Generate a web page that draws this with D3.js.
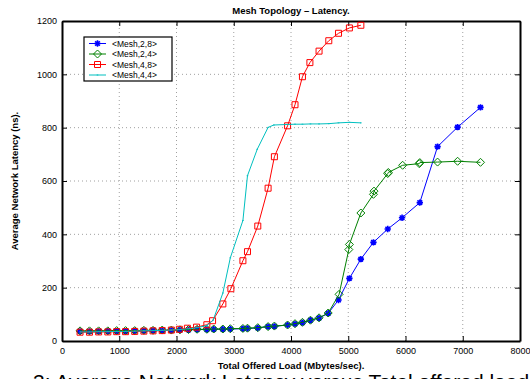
<!DOCTYPE html>
<html>
<head>
<meta charset="utf-8">
<script src="https://cdn.jsdelivr.net/npm/d3@7"></script>
<style>
  body { margin: 0; background: #fff; }
  svg { display: block; font-family: 'Liberation Sans', Arial, sans-serif; }
</style>
</head>
<body>
<svg id="chart" width="530" height="379"></svg>
<script>
// Mesh topology latency
const mesh28Load = [315, 480, 640, 800, 955, 1110, 1270, 1430, 1590, 1750, 1910, 2060, 2210, 2360,
  2530, 2650, 2810, 2940, 3160, 3240, 3420, 3600, 3710, 3940, 4070, 4200, 4340, 4490, 4650,
  4830, 5020, 5220, 5440, 5690, 5940, 6250, 6560, 6910, 7310];
const mesh28Lat = [36, 36, 36, 37, 37, 37, 38, 38, 39, 39, 40, 41, 42, 43,
  43, 44, 44, 45, 46, 47, 49, 54, 55, 60, 64, 69, 78, 86, 104,
  154, 235, 307, 370, 420, 462, 519, 729, 802, 876];

const mesh24Load = [315, 480, 640, 800, 955, 1110, 1270, 1430, 1590, 1750, 1910, 2060, 2210, 2360,
  2530, 2650, 2810, 2940, 3160, 3240, 3420, 3600, 3710, 3940, 4070, 4200, 4340, 4490, 4650,
  4840, 5010, 5020, 5220, 5440, 5450, 5690, 5700, 5950, 6240, 6250, 6560, 6910, 7310];
const mesh24Lat = [38, 38, 38, 38, 39, 39, 39, 40, 40, 41, 41, 42, 43, 44,
  44, 45, 45, 46, 47, 48, 50, 54, 56, 60, 65, 70, 78, 87, 105,
  175, 343, 362, 480, 550, 562, 628, 632, 659, 665, 669, 671, 674, 670];

const mesh48Load = [315, 480, 640, 800, 955, 1110, 1270, 1430, 1590, 1750, 1910, 2050, 2190, 2350,
  2530, 2630, 2810, 2950, 3160, 3240, 3420, 3600, 3710, 3940, 4070, 4200, 4330, 4490, 4660,
  4830, 5020, 5220];
const mesh48Lat = [33, 33, 34, 34, 35, 35, 36, 37, 38, 39, 41, 44, 48, 52,
  61, 76, 139, 196, 301, 335, 431, 573, 691, 807, 886, 991, 1044, 1087, 1126,
  1154, 1174, 1184];

const mesh44Load = [315, 480, 640, 800, 955, 1110, 1270, 1430, 1590, 1750, 1910, 2060, 2210, 2360,
  2530, 2640, 2810, 2940, 3160, 3240, 3410, 3600, 3700, 3940, 4070, 4200, 4340, 4490, 4660,
  4830, 5020, 5220];
const mesh44Lat = [34, 34, 35, 35, 36, 36, 37, 38, 39, 40, 41, 43, 46, 50,
  58, 78, 180, 312, 452, 620, 719, 801, 810, 812, 813, 813, 814, 814, 815,
  818, 820, 818];

const seriesNames = ['<Mesh,2,8>', '<Mesh,2,4>', '<Mesh,4,8>', '<Mesh,4,4>'];
const xTicks = [0, 1000, 2000, 3000, 4000, 5000, 6000, 7000, 8000];
const yTicks = [0, 200, 400, 600, 800, 1000, 1200];

const svg = d3.select('#chart');
const margin = { top: 21, right: 10, bottom: 38, left: 62 };
const width = 530;
const height = 379;

const x = d3.scaleLinear().domain([0, 8000]).range([margin.left, width - margin.right]);
const y = d3.scaleLinear().domain([0, 1200]).range([height - margin.bottom, margin.top]);

const series = [
  { name: seriesNames[0], load: mesh28Load, lat: mesh28Lat, color: '#0000ff', marker: 'star' },
  { name: seriesNames[1], load: mesh24Load, lat: mesh24Lat, color: '#008000', marker: 'diamond' },
  { name: seriesNames[2], load: mesh48Load, lat: mesh48Lat, color: '#ff0000', marker: 'square' },
  { name: seriesNames[3], load: mesh44Load, lat: mesh44Lat, color: '#00bfbf', marker: 'dot' }
];

// grid
svg.append('g')
  .selectAll('line')
  .data(xTicks.slice(1, -1))
  .enter()
  .append('line')
  .attr('x1', d => x(d)).attr('x2', d => x(d))
  .attr('y1', y(0)).attr('y2', y(1200))
  .attr('stroke', '#888').attr('stroke-width', 0.8).attr('stroke-dasharray', '1,3');

svg.append('g')
  .selectAll('line')
  .data(yTicks.slice(1, -1))
  .enter()
  .append('line')
  .attr('x1', x(0)).attr('x2', x(8000))
  .attr('y1', d => y(d)).attr('y2', d => y(d))
  .attr('stroke', '#888').attr('stroke-width', 0.8).attr('stroke-dasharray', '1,3');

// axes, ticks inward
const xAxis = g => g
  .attr('transform', `translate(0,${y(0)})`)
  .call(d3.axisBottom(x).tickValues(xTicks).tickSizeInner(-5).tickSizeOuter(0).tickPadding(7).tickFormat(d3.format('d')));

const yAxis = g => g
  .attr('transform', `translate(${x(0)},0)`)
  .call(d3.axisLeft(y).tickValues(yTicks).tickSizeInner(-5).tickSizeOuter(0).tickPadding(5).tickFormat(d3.format('d')));

const xTop = g => g
  .attr('transform', `translate(0,${y(1200)})`)
  .call(d3.axisTop(x).tickValues(xTicks).tickSizeInner(-5).tickSizeOuter(0).tickFormat(''));

const yRight = g => g
  .attr('transform', `translate(${x(8000)},0)`)
  .call(d3.axisRight(y).tickValues(yTicks).tickSizeInner(-5).tickSizeOuter(0).tickFormat(''));

[xAxis, yAxis, xTop, yRight].forEach(a => {
  const g = svg.append('g').call(a);
  g.selectAll('text').attr('font-size', 9).attr('fill', '#000')
    .attr('font-family', "'Liberation Sans', Arial, sans-serif");
  g.select('.domain').attr('stroke', '#000').attr('stroke-width', 2);
  g.selectAll('.tick line').attr('stroke', '#000').attr('stroke-width', 1);
});

// lines
const line = d3.line()
  .x(d => x(d[0]))
  .y(d => y(d[1]));

function markerPath(type) {
  if (type === 'square') return 'M-3,-3H3V3H-3Z';
  if (type === 'diamond') return 'M0,-4L4,0L0,4L-4,0Z';
  if (type === 'star') return 'M-3.2,0H3.2M0,-3.2V3.2M-2.3,-2.3L2.3,2.3M-2.3,2.3L2.3,-2.3';
  return 'M-0.8,0H0.8';
}

function drawMarker(g, type, color) {
  g.append('path')
    .attr('d', markerPath(type))
    .attr('fill', 'none')
    .attr('stroke', color)
    .attr('stroke-width', type === 'star' ? 1.6 : 1);
}

series.forEach(s => {
  const pts = s.load.map((v, i) => [v, s.lat[i]]);
  svg.append('path')
    .datum(pts)
    .attr('fill', 'none')
    .attr('stroke', s.color)
    .attr('stroke-width', 1)
    .attr('d', line);

  svg.append('g')
    .selectAll('g')
    .data(pts)
    .enter()
    .append('g')
    .attr('transform', d => `translate(${x(d[0])},${y(d[1])})`)
    .each(function () { drawMarker(d3.select(this), s.marker, s.color); });
});

// legend
const legend = svg.append('g').attr('transform', 'translate(84,37)');
legend.append('rect')
  .attr('width', 88).attr('height', 44)
  .attr('fill', '#fff').attr('stroke', '#000').attr('stroke-width', 1.2);

series.forEach((s, i) => {
  const row = legend.append('g').attr('transform', `translate(0,${6.5 + i * 10.5})`);
  row.append('line')
    .attr('x1', 5).attr('x2', 22)
    .attr('stroke', s.color).attr('stroke-width', 1);
  const m = row.append('g').attr('transform', 'translate(13.5,0)');
  drawMarker(m, s.marker, s.color);
  row.append('text')
    .attr('x', 28).attr('y', 3.2)
    .attr('font-size', 8.5)
    .text(s.name);
});

// titles
svg.append('text')
  .attr('x', 291).attr('y', 14)
  .attr('text-anchor', 'middle')
  .attr('font-size', 9.5).attr('font-weight', 'bold')
  .text('Mesh Topology \u2013 Latency.');

svg.append('text')
  .attr('x', 291).attr('y', 369)
  .attr('text-anchor', 'middle')
  .attr('font-size', 9.5).attr('font-weight', 'bold')
  .text('Total Offered Load (Mbytes/sec).');

svg.append('text')
  .attr('transform', `translate(18,${(y(0) + y(1200)) / 2}) rotate(-90)`)
  .attr('text-anchor', 'middle')
  .attr('font-size', 9.5).attr('font-weight', 'bold')
  .text('Average Network Latency (ns).');

// figure caption, cut off by the bottom edge
svg.append('text')
  .attr('x', 33).attr('y', 389)
  .attr('font-size', 21)
  .text('3: Average Network Latency versus Total offered load');
</script>
</body>
</html>
